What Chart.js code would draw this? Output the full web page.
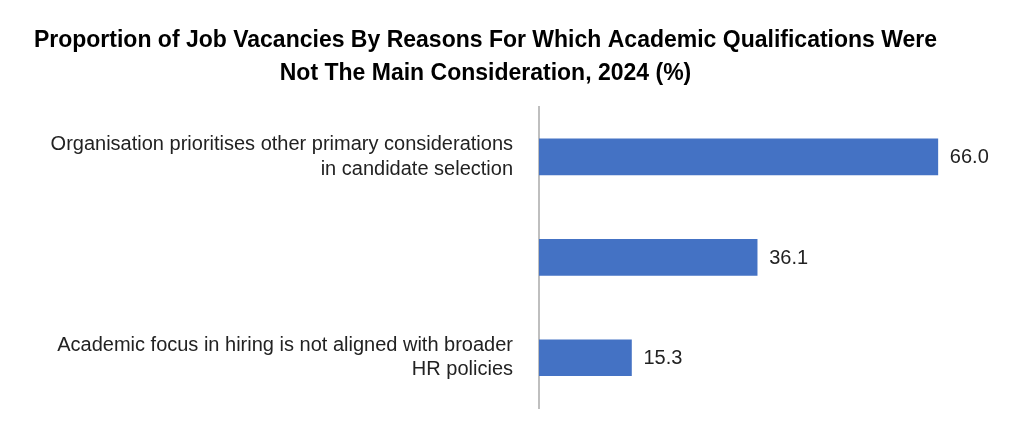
<!DOCTYPE html>
<html>
  <head>
    <title>Job vacancies chart</title>
    <script src="https://cdn.jsdelivr.net/npm/chart.js"></script>
    <style>
      html, body { margin: 0; padding: 0; background: #fff; }
      .grafico { width: 1024px; height: 423px; }
    </style>
  </head>
  <body>
    <div class="grafico">
      <canvas id="vagas"></canvas>
    </div>

    <script>
      var razoes = [
        ["Organisation prioritises other primary considerations", "in candidate selection"],
        ["Evaluation of past candidates hired showed that", "skills-based hiring has led to better outcomes (e.g.", "faster hiring process, ability to tap on a broader talent", "pool and improved employee performance)"],
        ["Academic focus in hiring is not aligned with broader", "HR policies"]
      ];
      var percentuais = [66.0, 36.1, 15.3];
      var titulo = ["Proportion of Job Vacancies By Reasons For Which Academic Qualifications Were", "Not The Main Consideration, 2024 (%)"];

      // writes the value just after the end of each bar
      var rotulosValor = {
        id: "rotulosValor",
        afterDatasetsDraw(chart) {
          var ctx = chart.ctx;
          var meta = chart.getDatasetMeta(0);
          ctx.save();
          ctx.font = "20px 'Liberation Sans', Arial, sans-serif";
          ctx.fillStyle = "#222";
          ctx.textBaseline = "middle";
          meta.data.forEach((barra, i) => {
            ctx.fillText(percentuais[i].toFixed(1), barra.x + 12, barra.y + 1);
          });
          ctx.restore();
        },
      };

      var grafico = new Chart(document.getElementById("vagas").getContext("2d"), {
        type: "bar",
        data: {
          labels: razoes,
          datasets: [
            {
              data: percentuais,
              backgroundColor: "#4472c4",
              barThickness: 36,
            },
          ],
        },
        options: {
          indexAxis: "y",
          responsive: true,
          maintainAspectRatio: false,
          animation: false,
          layout: { padding: { left: 9, right: 62, top: 8, bottom: 15 } },
          plugins: {
            legend: { display: false },
            tooltip: { enabled: false },
            title: {
              display: true,
              text: titulo,
              color: "#000",
              font: { family: "'Liberation Sans', Arial, sans-serif", size: 23, weight: "bold", lineHeight: 1.45 },
              padding: { top: 16, bottom: 16 },
            },
          },
          scales: {
            x: {
              display: false,
              min: 0,
              max: 70,
            },
            y: {
              grid: { display: false },
              border: { display: true, color: "#bfbfbf", width: 2 },
              ticks: {
                color: "#222",
                padding: 18,
                font: { family: "'Liberation Sans', Arial, sans-serif", size: 20, lineHeight: 1.22 },
              },
              afterFit(scale) {
                scale.width = 530;
                scale.paddingTop = 0;
                scale.paddingBottom = 0;
              },
            },
          },
        },
        plugins: [rotulosValor],
      });
    </script>
  </body>
</html>
